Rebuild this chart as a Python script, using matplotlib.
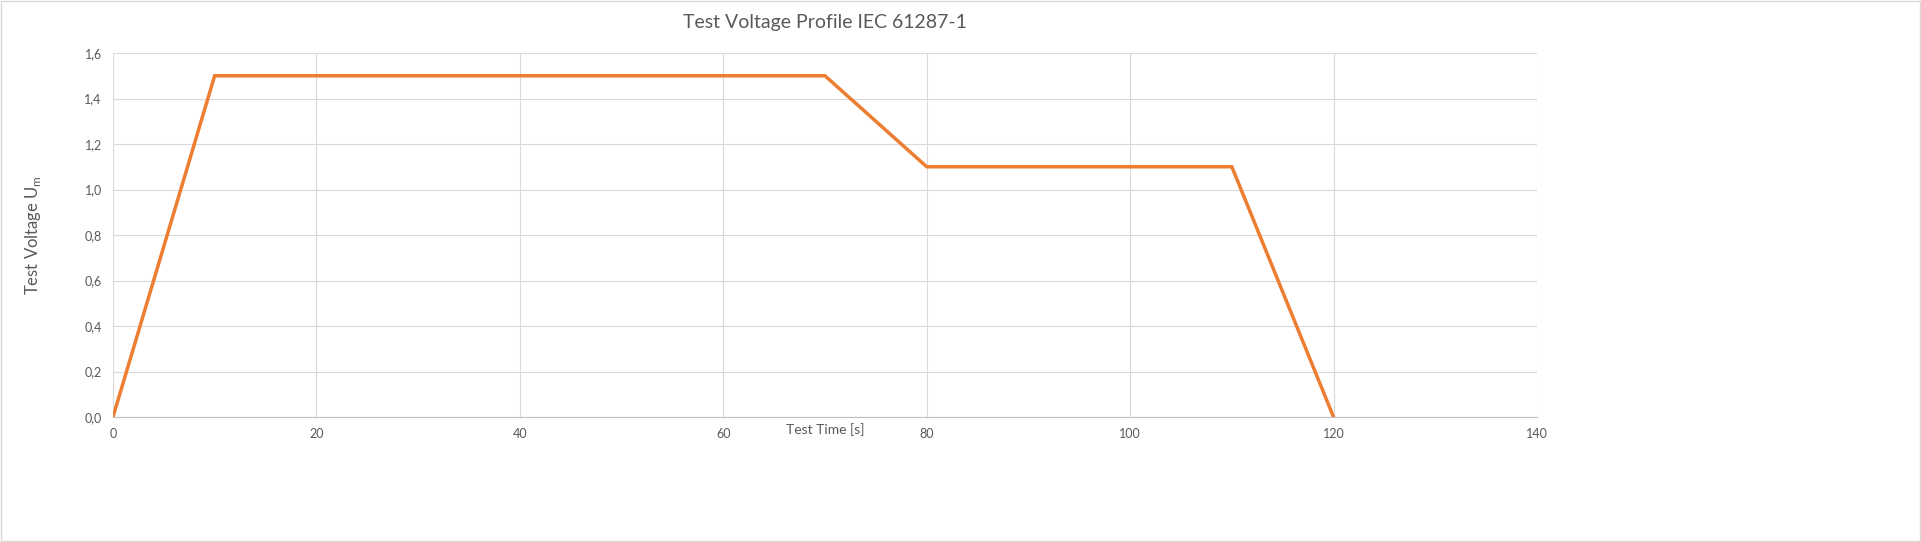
import matplotlib
matplotlib.use("Agg")
import matplotlib.pyplot as plt
from matplotlib.ticker import FuncFormatter, MultipleLocator

plt.rcParams['font.family'] = ['Lato', 'DejaVu Sans']

time_s = [0, 10, 70, 80, 110, 120]
voltage = [0.0, 1.5, 1.5, 1.1, 1.1, 0.0]

fig = plt.figure(figsize=(19.21, 5.42), dpi=100)
fig.patches.append(plt.Rectangle((0.0005, 0.001), 0.999, 0.997, transform=fig.transFigure,
                                 fill=False, edgecolor='#d9d9d9', lw=1))
ax = fig.add_axes([0.0588, 0.2306, 0.7413, 0.6716])
ax.plot(time_s, voltage, color='#ed7d31', lw=2.5, solid_joinstyle='miter')
ax.set_xlim(0, 140)
ax.set_ylim(0, 1.6)
ax.xaxis.set_major_locator(MultipleLocator(20))
ax.yaxis.set_major_locator(MultipleLocator(0.2))
ax.yaxis.set_major_formatter(FuncFormatter(lambda v, p: f"{v:.1f}".replace('.', ',')))
ax.grid(True, color='#d9d9d9', lw=0.8)
ax.set_axisbelow(True)
for s in ['top', 'right', 'left']:
    ax.spines[s].set_visible(False)
ax.spines['bottom'].set_color('#bfbfbf')
ax.tick_params(length=0, labelsize=9, colors='#595959', pad=8)
ax.set_title('Test Voltage Profile IEC 61287-1', fontsize=14, color='#595959', pad=18)
ax.set_xlabel('Test Time [s]', fontsize=10, color='#595959', labelpad=-12)
ax.set_ylabel('Test Voltage U$_\\mathregular{m}$', fontsize=12, color='#595959', labelpad=30)
fig.savefig('out.png', dpi=100)
